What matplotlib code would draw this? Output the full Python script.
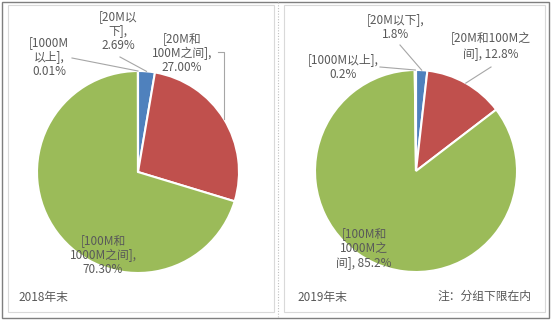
import numpy as np
import matplotlib
matplotlib.use("Agg")
import matplotlib.pyplot as plt
import matplotlib.patches as mpatches
from matplotlib.lines import Line2D

plt.rcParams["font.family"] = ["Noto Sans CJK SC", "DejaVu Sans"]

W, H = 558, 322
DPI = 100
TXT = "#595959"
LEAD = "#a6a6a6"

# order is clockwise from 12 o'clock
categories = ["20M以下", "20M和100M之间", "100M和1000M之间", "1000M以上"]
colors = ["#4f81bd", "#c0504d", "#9bbb59", "#8064a2"]
share_2018 = [2.69, 27.00, 70.30, 0.01]
share_2019 = [1.8, 12.8, 85.2, 0.2]
labels_2018 = ["[20M以\n下],\n2.69%", "[20M和\n100M之间],\n27.00%",
               "[100M和\n1000M之间],\n70.30%", "[1000M\n以上],\n0.01%"]
labels_2019 = ["[20M以下],\n1.8%", "[20M和100M之\n间], 12.8%",
               "[100M和\n1000M之\n间], 85.2%", "[1000M以上],\n0.2%"]


def fx(x):
    return x / W


def fy(y):
    return 1 - y / H


fig = plt.figure(figsize=(W / DPI, H / DPI), dpi=DPI)

# frames
fig.add_artist(mpatches.Rectangle((fx(1.5), fy(318)), (549 - 1.5) / W, (318 - 1.5) / H,
                                  transform=fig.transFigure, fill=False,
                                  edgecolor="#7f7f7f", lw=1.0))
for x0, x1 in [(8, 274), (284, 545)]:
    fig.add_artist(mpatches.Rectangle((fx(x0), fy(312)), (x1 - x0) / W, (312 - 5) / H,
                                      transform=fig.transFigure, fill=False,
                                      edgecolor="#d9d9d9", lw=0.8))
fig.add_artist(Line2D([fx(278), fx(278)], [fy(2), fy(318)], transform=fig.transFigure,
                      color="#bfbfbf", lw=0.8, ls=(0, (1, 1.5))))


def draw_pie(cx, cy, r, values, labels, label_pos, leaders, year_text):
    box = 1.25 * r
    ax = fig.add_axes([fx(cx - box), fy(cy + box), 2 * box / W, 2 * box / H])
    wedges, _ = ax.pie(values, colors=colors, startangle=90, counterclock=False,
                       wedgeprops=dict(edgecolor="white", linewidth=1.5))
    ax.set_xlim(-1.25, 1.25)
    ax.set_ylim(-1.25, 1.25)
    ax.set_aspect("equal")
    ax.axis("off")

    # text labels
    for lbl, (x, y) in zip(labels, label_pos):
        fig.text(fx(x), fy(y), lbl, ha="center", va="center", fontsize=8.5,
                 color=TXT, linespacing=1.15)

    # leader lines to rim midpoint of each wedge
    for i, start in leaders.items():
        w = wedges[i]
        mid = np.deg2rad((w.theta1 + w.theta2) / 2)
        ex, ey = cx + r * np.cos(mid), cy - r * np.sin(mid)
        if isinstance(start[0], tuple):
            pts = [start[0], (ex, start[0][1]), (ex, ey)]
        else:
            pts = [start, (ex, ey)]
        fig.add_artist(Line2D([fx(p[0]) for p in pts], [fy(p[1]) for p in pts],
                              transform=fig.transFigure, color=LEAD, lw=0.8))

    fig.text(fx(year_text[0]), fy(year_text[1]), year_text[2], ha="left",
             va="center", fontsize=8.5, color=TXT)


draw_pie(138, 172, 101, share_2018, labels_2018,
         [(118, 31), (182, 53), (103, 255), (49, 57)],
         {0: (120, 57), 1: ((218, 52),), 3: (72, 58)},
         (18, 298, "2018年末"))

draw_pie(416, 171, 101, share_2019, labels_2019,
         [(396, 27), (491, 46), (364, 248), (343, 67)],
         {0: (400, 45), 1: (491, 67), 3: (380, 67)},
         (297, 298, "2019年末"))

fig.text(fx(531), fy(296), "注：分组下限在内", ha="right", va="center",
         fontsize=8.5, color=TXT)

fig.savefig("out.png", dpi=DPI)
